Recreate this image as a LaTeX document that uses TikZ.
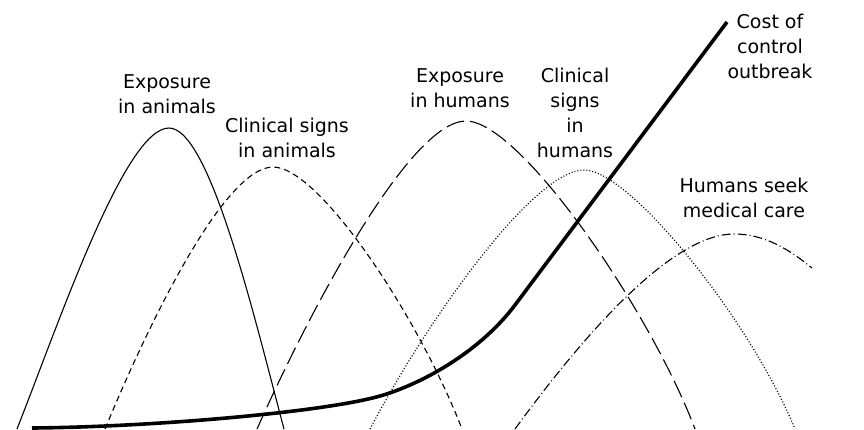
\documentclass[tikz,border=0pt]{standalone}
\usepackage{fontspec}
\setmainfont{DejaVu Sans}
\begin{document}
\begin{tikzpicture}[x=1pt,y=-1pt,
  lbl/.style={align=center,inner sep=0pt,font=\fontsize{19}{25}\selectfont},
  animalexp/.style={line width=1.1pt},
  animalsign/.style={line width=1.1pt,dash pattern=on 6pt off 4pt},
  humanexp/.style={line width=1.1pt,dash pattern=on 18pt off 6pt},
  humansign/.style={line width=1.2pt,dash pattern=on 1pt off 2pt},
  care/.style={line width=1.1pt,dash pattern=on 9pt off 3pt on 1pt off 3pt},
  cost/.style={line width=3.6pt}]
  \useasboundingbox (0,0) rectangle (864,429);
  % curves
  \draw[animalexp] (17,429) .. controls (60,320) and (125,128) .. (169,128)
    .. controls (210,128) and (255,320) .. (284,429);
  \draw[animalsign] (105,429) .. controls (150,320) and (225,167) .. (273,167)
    .. controls (320,167) and (420,320) .. (462,429);
  \draw[humanexp] (257,429) .. controls (310,310) and (410,121) .. (466,121)
    .. controls (520,121) and (650,310) .. (695,429);
  \draw[humansign] (370,429) .. controls (430,315) and (535,170) .. (584,170)
    .. controls (630,170) and (750,320) .. (795,429);
  \draw[care] (515,429) .. controls (580,340) and (670,234) .. (734,234)
    .. controls (765,234) and (790,250) .. (812,268);
  \draw[cost] (32,428) .. controls (150,427) and (322,412.5) .. (380,396)
    .. controls (420,384.6) and (479,353) .. (515,305) -- (727,22);
  % labels
  \node[lbl] (expanimals) at (167,94) {Exposure\\in animals};
  \node[lbl] (signanimals) at (287,138) {Clinical signs\\in animals};
  \node[lbl] (exphumans) at (460,88) {Exposure\\in humans};
  \node[lbl] (signhumans) at (575,113) {Clinical\\signs\\in\\humans};
  \node[lbl] (costlbl) at (770,46) {Cost of\\control\\outbreak};
  \node[lbl] (carelbl) at (744,198) {Humans seek\\medical care};
\end{tikzpicture}
\end{document}
